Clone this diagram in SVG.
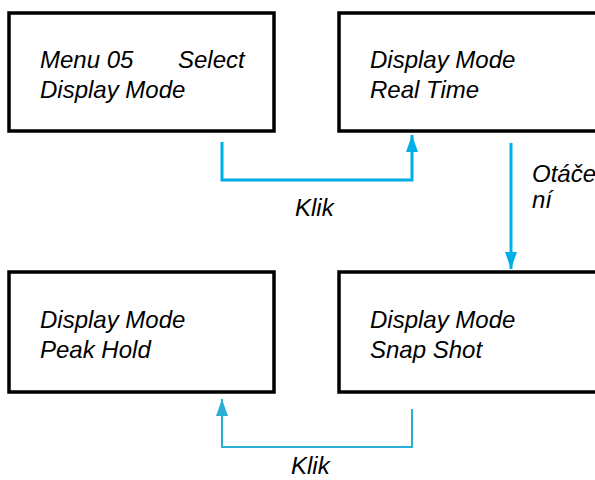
<svg xmlns="http://www.w3.org/2000/svg" width="595" height="480" viewBox="0 0 595 480">
<style>
.box{fill:#fff;stroke:#000;stroke-width:3.5}
.t{font-family:"Liberation Sans",Arial,sans-serif;font-style:italic;font-size:24px;fill:#000}
.c{fill:none;stroke:#00aee8;stroke-width:3}
.c2{fill:none;stroke:#2aaed6;stroke-width:2}
</style>
<defs>
<marker id="ah" markerUnits="userSpaceOnUse" markerWidth="18" markerHeight="14" refX="17" refY="7" orient="auto">
<path d="M0,1 L17,7 L0,13 z" fill="#00aee8"/>
</marker>
<marker id="ah2" markerUnits="userSpaceOnUse" markerWidth="18" markerHeight="14" refX="17" refY="7" orient="auto">
<path d="M0,1 L17,7 L0,13 z" fill="#2aaed6"/>
</marker>
</defs>
<g id="n1">
<rect class="box" x="9" y="13" width="265" height="118"/>
<text class="t" x="40" y="68">Menu 05</text>
<text class="t" x="178" y="68">Select</text>
<text class="t" x="40" y="98">Display Mode</text>
</g>
<g id="n2">
<rect class="box" x="339" y="13" width="270" height="118"/>
<text class="t" x="370" y="68">Display Mode</text>
<text class="t" x="370" y="98">Real Time</text>
</g>
<g id="n3">
<rect class="box" x="9" y="272" width="265" height="120"/>
<text class="t" x="40" y="328">Display Mode</text>
<text class="t" x="40" y="358">Peak Hold</text>
</g>
<g id="n4">
<rect class="box" x="339" y="272" width="270" height="120"/>
<text class="t" x="370" y="328">Display Mode</text>
<text class="t" x="370" y="358">Snap Shot</text>
</g>
<g id="connectors">
<path class="c" d="M222,142 V180 H412 V135" marker-end="url(#ah)"/>
<path class="c" d="M511,143 V269" marker-end="url(#ah)"/>
<path class="c2" d="M412,409 V447 H222 V399" marker-end="url(#ah2)"/>
</g>
<g id="labels">
<text class="t" x="295" y="216">Klik</text>
<text class="t" x="532" y="182">Otáče</text>
<text class="t" x="532" y="208">ní</text>
<text class="t" x="291" y="474">Klik</text>
</g>
</svg>
